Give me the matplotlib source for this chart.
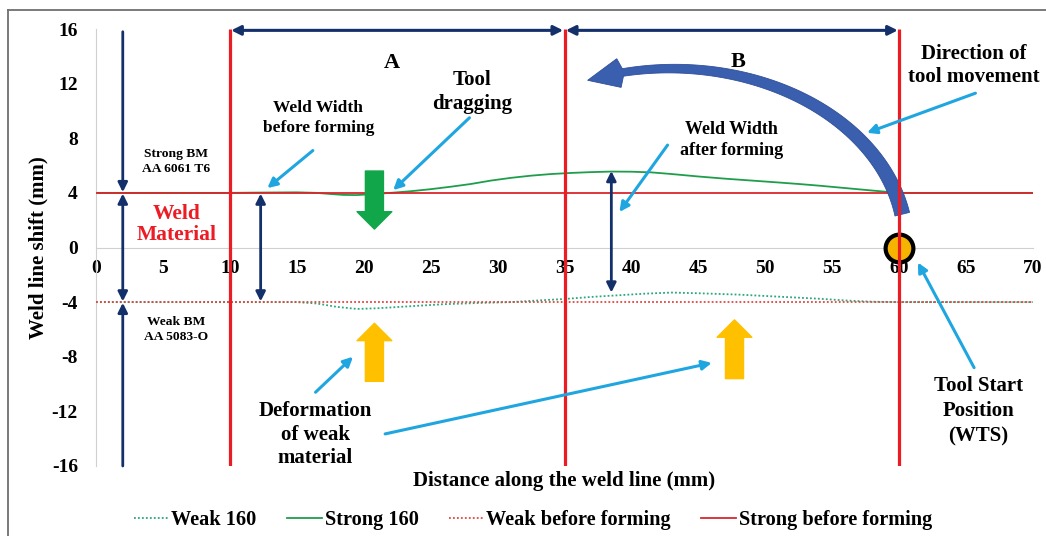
import matplotlib
matplotlib.use("Agg")
import matplotlib.pyplot as plt
from matplotlib.lines import Line2D
from matplotlib.patches import FancyArrowPatch, ArrowStyle, Polygon
import numpy as np

# measured weld line positions (mm)
strong_x = [0, 5, 10, 12, 15, 16.5, 17.5, 18.5, 19.5, 20.5, 22, 23.5, 25, 26.5, 28, 29.5, 31, 32.5, 34, 35.5,
            37, 38.5, 40, 41.5, 43, 45, 47, 49, 51, 52.5, 54, 56, 58, 59.5, 60, 65, 70]
strong_y = [4, 4, 4, 4.02, 4.04, 4.0, 3.92, 3.85, 3.84, 3.9, 4.0, 4.12, 4.27, 4.45, 4.65, 4.9, 5.1, 5.26, 5.38, 5.46,
            5.52, 5.56, 5.55, 5.5, 5.38, 5.2, 5.04, 4.9, 4.76, 4.65, 4.53, 4.35, 4.17, 4.04, 4.0, 4.0, 4.0]

weak_x = [0, 5, 10, 15, 16.5, 18, 19.5, 21, 23, 26, 29, 31, 33, 35, 37, 39, 41, 43, 45, 48, 51, 54, 56, 58, 60, 65, 70]
weak_y = [-4, -4, -4, -4, -4.1, -4.35, -4.5, -4.45, -4.33, -4.15, -4.05, -4.0, -3.88, -3.77, -3.62, -3.5, -3.38,
          -3.3, -3.35, -3.45, -3.6, -3.75, -3.88, -3.97, -4, -4, -4]

base_x = [0, 70]
strong_before = [4, 4]
weak_before = [-4, -4]

zone_edges = [10, 35, 60]
tool_start = (60, 0)

x_ticks = list(range(0, 71, 5))
y_ticks = list(range(-16, 17, 4))

NAVY = "#14306b"
SKY = "#1fa6e0"
RED = "#ec1c24"

plt.rcParams.update({
    "font.family": ["Liberation Serif", "DejaVu Serif"],
    "font.weight": "bold",
    "axes.labelweight": "bold",
    "axes.unicode_minus": False,
})

fig = plt.figure(figsize=(10.46, 5.36), dpi=100)
ax = fig.add_axes([96 / 1046, 70 / 536, 937 / 1046, 437 / 536])

ax.plot(weak_x, weak_y, color="#2aa87a", lw=1.3, ls=(0, (1, 1.2)), label="Weak 160", zorder=2)
ax.plot(strong_x, strong_y, color="#1e9e4a", lw=1.3, label="Strong 160", zorder=2)
ax.plot(base_x, weak_before, color="#e0473f", lw=1.3, ls=(0, (1, 1.2)), label="Weak before forming", zorder=3)
ax.plot(base_x, strong_before, color="#d9262b", lw=1.3, label="Strong before forming", zorder=3)

ax.plot(*tool_start, marker="o", ms=20, mfc="#f6b400", mec="black", mew=3, zorder=4)
ax.vlines(zone_edges, -16, 16, color=RED, lw=2.3, zorder=6)

ax.set_xlim(0, 70)
ax.set_ylim(-16, 16)
ax.set_xticks(x_ticks)
ax.set_yticks(y_ticks)
for s in ["top", "right"]:
    ax.spines[s].set_visible(False)
ax.spines["bottom"].set_position(("data", 0))
ax.spines["bottom"].set_color("#d0d0d0")
ax.spines["left"].set_color("#d0d0d0")
ax.tick_params(axis="x", length=0, pad=9, labelsize=14)
ax.tick_params(axis="y", length=0, pad=13, labelsize=14)
ax.set_ylabel("Weld line shift (mm)", fontsize=15)
ax.yaxis.label.set_va("center")
ax.yaxis.set_label_coords((38 - 96) / 937, 0.5)
ax.set_xlabel("Distance along the weld line (mm)", fontsize=15)
ax.xaxis.label.set_va("center")
ax.xaxis.set_label_coords(0.5, (466 - 481) / 437)


def arrow(tail, tip, color, lw, style="-|>", ms=14, z=7):
    ax.annotate("", xy=tip, xytext=tail,
                arrowprops=dict(arrowstyle=style, color=color, lw=lw, mutation_scale=ms,
                                shrinkA=0, shrinkB=0), zorder=z)


# zone dimension arrows
arrow((10.1, 15.9), (34.9, 15.9), NAVY, 2.2, "<|-|>")
arrow((35.1, 15.9), (59.9, 15.9), NAVY, 2.2, "<|-|>")
arrow((2, 15.8), (2, 4.05), NAVY, 2.0)
arrow((2, 3.95), (2, -3.95), NAVY, 2.0, "<|-|>")
arrow((2, -16), (2, -4.05), NAVY, 2.0)
arrow((12.3, 3.95), (12.3, -3.95), NAVY, 2.0, "<|-|>")
arrow((38.5, 5.6), (38.5, -3.3), NAVY, 2.0, "<|-|>")

# callout arrows
arrow((16.2, 7.1), (12.8, 4.35), SKY, 2.2)
arrow((27.9, 9.5), (22.2, 4.2), SKY, 2.2)
arrow((42.7, 7.5), (39.1, 2.6), SKY, 2.2)
arrow((65.7, 11.3), (57.6, 8.4), SKY, 2.2)
arrow((65.6, -8.8), (61.4, -1.1), SKY, 2.2)
arrow((16.4, -10.6), (19.2, -8.0), SKY, 2.2)
arrow((21.6, -13.65), (46.0, -8.45), SKY, 2.2)

# block arrows
block = ArrowStyle("Simple", head_length=1.25, head_width=2.5, tail_width=1.3)
for tail, tip, col in [((20.8, 5.6), (20.8, 1.35), "#11a64a"),
                       ((20.8, -9.8), (20.8, -5.55), "#ffc000"),
                       ((47.7, -9.6), (47.7, -5.3), "#ffc000")]:
    ax.add_patch(FancyArrowPatch(tail, tip, arrowstyle=block, mutation_scale=10, color=col,
                                 shrinkA=0, shrinkB=0, zorder=5))

# curved "direction of tool movement" arrow: tapered band along an elliptical arc
cx, cy, ea, eb = 43.0, 0.2, 17.5, 12.9
t_tip = np.radians(111)
t_head = np.radians(102)
ts = np.linspace(np.radians(10), t_head, 80)
pts = ax.transData.transform(np.c_[cx + ea * np.cos(ts), cy + eb * np.sin(ts)])
tan = np.gradient(pts, axis=0)
tan /= np.linalg.norm(tan, axis=1)[:, None]
nrm = np.c_[-tan[:, 1], tan[:, 0]]
half = np.linspace(7.5, 3.8, len(ts))[:, None]
left = pts + nrm * half
right = pts - nrm * half
tip = ax.transData.transform([(cx + ea * np.cos(t_tip), cy + eb * np.sin(t_tip))])[0]
barb_l = pts[-1] + nrm[-1] * 14.5 + tan[-1] * 4
barb_r = pts[-1] - nrm[-1] * 14.5 + tan[-1] * 4
poly = np.vstack([left, [barb_l, tip, barb_r], right[::-1]])
ax.add_patch(Polygon(ax.transData.inverted().transform(poly), closed=True, fc="#3a5fae", ec="#2f4f98",
                     lw=0.6, zorder=5))

# labels
ax.text(22.1, 13.5, "A", ha="center", va="center", fontsize=16)
ax.text(48.0, 13.6, "B", ha="center", va="center", fontsize=16)
ax.text(16.6, 9.5, "Weld Width\nbefore forming", ha="center", va="center", fontsize=12.5, linespacing=1.3)
ax.text(28.1, 11.4, "Tool\ndragging", ha="center", va="center", fontsize=15, linespacing=1.3)
ax.text(47.5, 7.9, "Weld Width\nafter forming", ha="center", va="center", fontsize=13, linespacing=1.3)
ax.text(65.6, 13.3, "Direction of\ntool movement", ha="center", va="center", fontsize=15, linespacing=1.2)
ax.text(6.0, 6.3, "Strong BM\nAA 6061 T6", ha="center", va="center", fontsize=9.7, linespacing=1.3)
ax.text(6.0, 1.7, "Weld\nMaterial", ha="center", va="center", fontsize=15.5, color=RED, linespacing=1.1)
ax.text(6.0, -6.0, "Weak BM\nAA 5083-O", ha="center", va="center", fontsize=9.7, linespacing=1.3)
ax.text(16.4, -13.7, "Deformation\nof weak\nmaterial", ha="center", va="center", fontsize=15, linespacing=1.25)
ax.text(65.9, -12.0, "Tool Start\nPosition\n(WTS)", ha="center", va="center", fontsize=15, linespacing=1.35)

fig.legend(loc="center", bbox_to_anchor=(533 / 1046, 1 - 520 / 536), ncol=4, frameon=False,
           fontsize=14.6, handlelength=1.7, handletextpad=0.15, columnspacing=1.5)

# outer frame
fig.add_artist(Line2D([8 / 1046, 8 / 1046], [0, 1 - 10 / 536], transform=fig.transFigure, color="#707070", lw=1.3))
fig.add_artist(Line2D([8 / 1046, 1], [1 - 10 / 536, 1 - 10 / 536], transform=fig.transFigure, color="#707070", lw=1.3))

fig.savefig("out.png", dpi=100)
